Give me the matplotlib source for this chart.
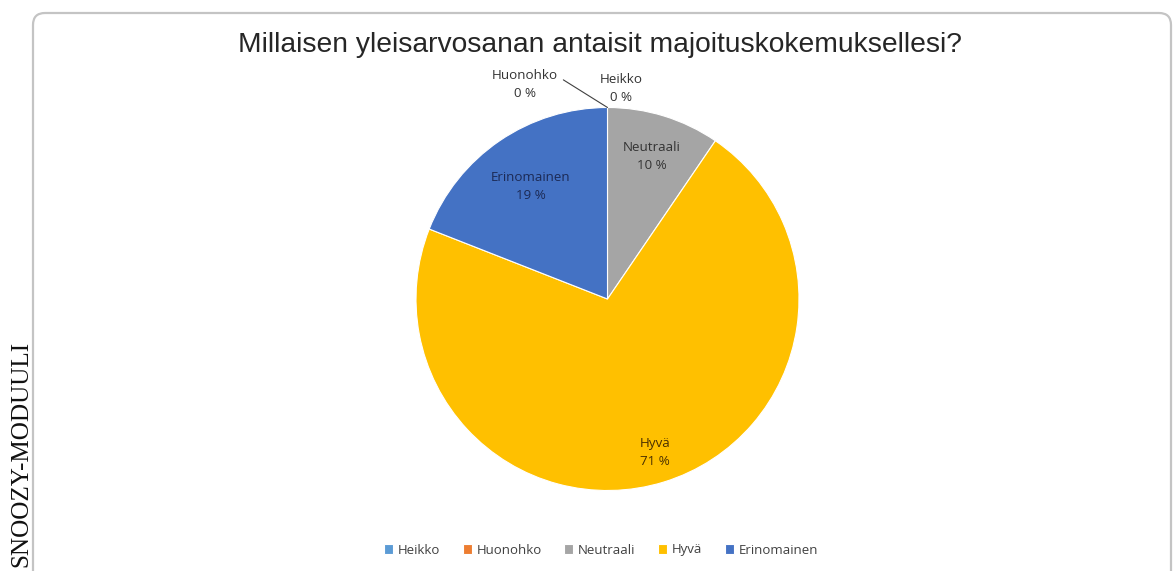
import numpy as np
import matplotlib
matplotlib.use("Agg")
import matplotlib.pyplot as plt
from matplotlib.patches import FancyBboxPatch
from matplotlib.transforms import IdentityTransform

# vastaukset (kpl)
categories = ["Heikko", "Huonohko", "Neutraali", "Hyvä", "Erinomainen"]
counts = [0, 0, 2, 15, 4]
colors = ["#5B9BD5", "#ED7D31", "#A5A5A5", "#FFC000", "#4472C4"]
title = "Millaisen yleisarvosanan antaisit majoituskokemuksellesi?"
side_text = "SNOOZY-MODUULI"

W, H = 1173, 571
fig = plt.figure(figsize=(W / 100, H / 100), dpi=100)
fig.patch.set_facecolor("white")

# kaavion kehys (pyöristetty kulma)
frame = FancyBboxPatch((33, -40), 1138, H - 13 + 40,
                       boxstyle="round,pad=0,rounding_size=12",
                       transform=IdentityTransform(),
                       facecolor="white", edgecolor="#c4c4c4", lw=1.6,
                       zorder=-5)
fig.patches.append(frame)

# piirakka
cx, cy, r = 607.5, H - 299, 191.5
ax = fig.add_axes([(cx - r) / W, (cy - r) / H, 2 * r / W, 2 * r / H])
ax.set_zorder(2)
wedges, _ = ax.pie(counts, colors=colors, startangle=90, counterclock=False,
                   wedgeprops=dict(edgecolor="white", linewidth=0.8))
ax.set_xlim(-1, 1)
ax.set_ylim(-1, 1)
ax.set_aspect("equal")
ax.axis("off")

lab_fs = 9.6
total = sum(counts)
label_r = {"Neutraali": 0.78, "Hyvä": 0.84, "Erinomainen": 0.71}
txt_col = {"Neutraali": "#333333", "Hyvä": "#4a3000", "Erinomainen": "#1c2a55"}
for w, name, c in zip(wedges, categories, counts):
    pct = "%d %%" % round(100 * c / total)
    if c == 0:
        continue
    mid = np.deg2rad((w.theta1 + w.theta2) / 2)
    rr = label_r[name]
    ax.text(rr * np.cos(mid), rr * np.sin(mid), name + "\n" + pct,
            ha="center", va="center", fontsize=lab_fs, family="Open Sans",
            color=txt_col[name], linespacing=1.55)

# nollaosuudet yläpuolelle
ax.text(0.07, 1.10, categories[0] + "\n0 %", ha="center", va="center",
        fontsize=lab_fs, family="Open Sans", color="#333333", linespacing=1.55)
ax.annotate(categories[1] + "\n0 %", xy=(0.0, 1.0), xytext=(-0.43, 1.12),
            ha="center", va="center", fontsize=lab_fs, family="Open Sans",
            color="#333333", linespacing=1.55,
            arrowprops=dict(arrowstyle="-", color="#404040", lw=0.8,
                            shrinkA=2, shrinkB=0,
                            relpos=(1.0, 0.75)))

# otsikko
fig.text(600 / W, 1 - 45 / H, title, ha="center", va="center",
         fontsize=20.3, family="Liberation Sans", color="#262626")

# selite
handles = wedges
leg = fig.legend(handles, categories, loc="center", ncol=5,
                 bbox_to_anchor=(601 / W, 1 - 550 / H), frameon=False,
                 handlelength=0.7, handleheight=0.7,
                 handletextpad=0.35, columnspacing=1.7,
                 prop=dict(family="Open Sans", size=9.5))
for t in leg.get_texts():
    t.set_color("#404040")

# sivuteksti
fig.text(21 / W, 1 - 341 / H, side_text, rotation=90, ha="center", va="top",
         fontsize=18.1, family="Liberation Serif", color="#111111")

fig.savefig("out.png", dpi=100)
